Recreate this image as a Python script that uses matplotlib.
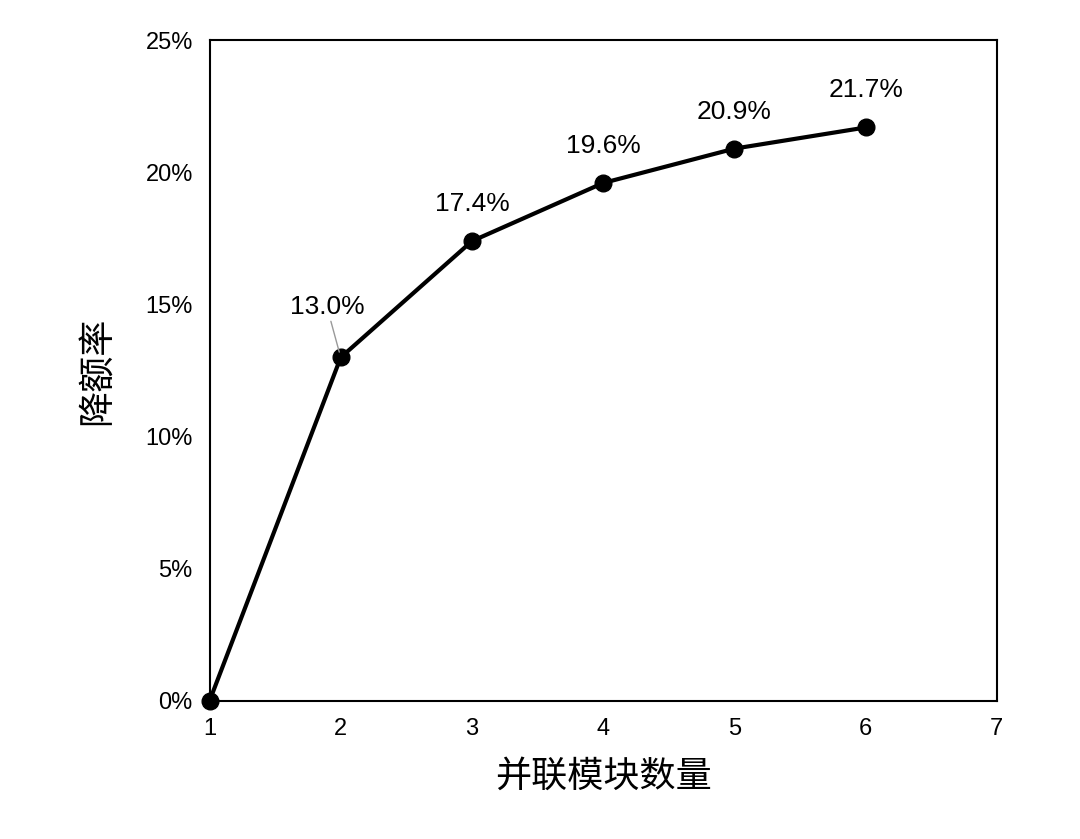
import matplotlib
matplotlib.use("Agg")
import matplotlib.pyplot as plt
from matplotlib.ticker import PercentFormatter

plt.rcParams["font.family"] = ["Liberation Sans", "Noto Sans CJK SC", "DejaVu Sans"]

MODULES = [1, 2, 3, 4, 5, 6]
DERATE = [0.0, 13.0, 17.4, 19.6, 20.9, 21.7]
LABELS = ["", "13.0%", "17.4%", "19.6%", "20.9%", "21.7%"]

fig = plt.figure(figsize=(10.8, 8.39), dpi=100)
ax = fig.add_axes([0.194, 0.1645, 0.729, 0.7875])
ax.plot(MODULES, DERATE, color="black", linewidth=3, marker="o",
        markersize=12, clip_on=False, zorder=3)

for x, y, t in zip(MODULES, DERATE, LABELS):
    if not t:
        continue
    if x == 2:
        ax.annotate(t, (x, y), xytext=(-10, 28), textcoords="offset points",
                    ha="center", va="bottom", fontsize=19,
                    arrowprops=dict(arrowstyle="-", color="#999999", lw=1,
                                    shrinkA=0, shrinkB=4))
    else:
        ax.annotate(t, (x, y), xytext=(0, 18), textcoords="offset points",
                    ha="center", va="bottom", fontsize=19)

ax.set_xlim(1, 7)
ax.set_ylim(0, 25)
ax.set_xticks(range(1, 8))
ax.set_yticks(range(0, 26, 5))
ax.yaxis.set_major_formatter(PercentFormatter(decimals=0))
ax.tick_params(labelsize=17, length=0, pad=12)
ax.set_xlabel("并联模块数量", fontsize=26, labelpad=14,
              family=["Noto Sans CJK SC", "DejaVu Sans"])
ax.set_ylabel("降额率", fontsize=26, labelpad=22,
              family=["Noto Sans CJK SC", "DejaVu Sans"])
for s in ax.spines.values():
    s.set_linewidth(1.5)

fig.savefig("out.png")
